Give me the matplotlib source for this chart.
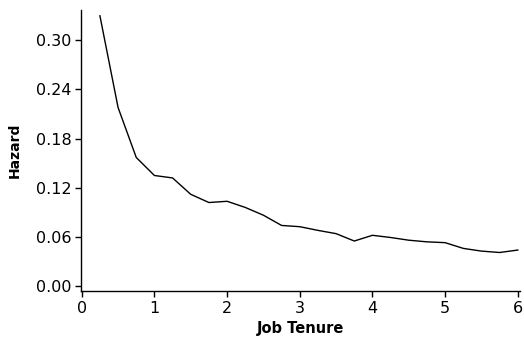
import matplotlib
matplotlib.use('Agg')
import matplotlib.pyplot as plt
import numpy as np

# hazard, every quarter year
tenure = [0.25, 0.5, 0.75, 1.0, 1.25, 1.5, 1.75, 2.0, 2.25, 2.5, 2.75, 3.0,
          3.25, 3.5, 3.75, 4.0, 4.25, 4.5, 4.75, 5.0, 5.25, 5.5, 5.75, 6.0]
hazard = [0.330, 0.218, 0.157, 0.135, 0.132, 0.112, 0.102, 0.1035, 0.096, 0.0865,
          0.074, 0.0725, 0.068, 0.064, 0.055, 0.062, 0.0593, 0.056, 0.054, 0.053,
          0.046, 0.0427, 0.041, 0.044]
yticks = [0.00, 0.06, 0.12, 0.18, 0.24, 0.30]
xticks = [0, 1, 2, 3, 4, 5, 6]

plt.rcParams['font.family'] = ['DejaVu Sans']

fig = plt.figure(figsize=(5.24, 3.37), dpi=100)
ax = fig.add_axes([81/524, 46/337, 439/524, 281/337])
ax.plot(tenure, hazard, color='black', lw=1.0)

ax.set_xlim(-0.01, 6.03)
ax.set_ylim(-0.006, 0.337)
ax.set_xticks(xticks)
ax.set_yticks(yticks)
ax.set_yticklabels(['%.2f' % v for v in yticks])
ax.spines['top'].set_visible(False)
ax.spines['right'].set_visible(False)
for s in ['left', 'bottom']:
    ax.spines[s].set_linewidth(1.0)
ax.tick_params(direction='out', length=4, width=1, labelsize=11.5, pad=3)
ax.set_xlabel('Job Tenure', fontsize=10.5, fontweight='bold')
ax.set_ylabel('Hazard', fontsize=10, fontweight='bold')
ax.xaxis.set_label_coords(0.5, -0.108)
ax.yaxis.set_label_coords(-0.136, 0.5)

fig.savefig('out.png', dpi=100)
